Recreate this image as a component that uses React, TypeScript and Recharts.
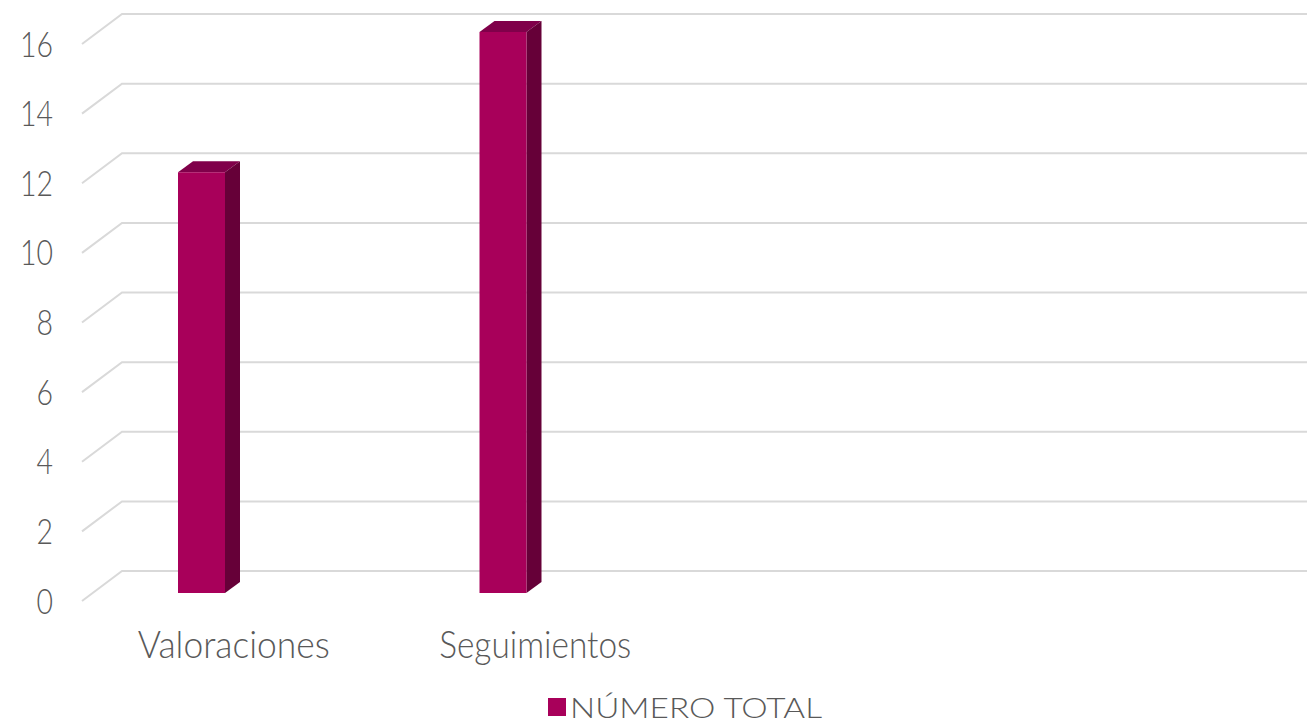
import React from 'react';
import { BarChart, Bar, XAxis, YAxis, CartesianGrid, Legend } from 'recharts';

const categories = ['Valoraciones', 'Seguimientos', '', ''];
const totals: (number | null)[] = [12, 16, null, null];
const yTicks = [0, 2, 4, 6, 8, 10, 12, 14, 16];
const seriesName = 'NÚMERO TOTAL';

const data = categories.map((name, i) => ({ name, total: totals[i] }));

const W = 1307;
const H = 723;
const MARGIN = { top: 32, right: 50, bottom: 90, left: 11 };
const X_AXIS_H = 40;
const Y_AXIS_W = 40;
const PLOT_BOTTOM = H - MARGIN.bottom - X_AXIS_H;

const FONT = 'Lato, "Open Sans", sans-serif';
const TEXT = '#595959';
const GRID = '#D9D9D9';
const FRONT = '#A8005A';
const TOP = '#80004A';
const SIDE = '#660038';
const DEPTH_X = 15;
const DEPTH_Y = 11;

// back-plane projection of a front-plane y coordinate
const backY = (y: number) => PLOT_BOTTOM - 22 - (PLOT_BOTTOM - y) * (557 / 561);

const GridLine = (props: any) => {
  const { y1, x1, x2 } = props;
  const by = backY(y1);
  const bxLeft = x1 + 71;
  return (
    <path
      key={props.key ?? `g-${y1}`}
      d={`M${bxLeft - 40},${by + 30}L${bxLeft},${by}L${x2 + 50},${by}`}
      stroke={GRID}
      strokeWidth={2}
      fill="none"
    />
  );
};

const YTick = (props: any) => {
  const { y, payload } = props;
  const s = String(payload.value);
  const cy = backY(y) + 30;
  return (
    <text
      x={53}
      y={cy + 12.5}
      fontSize={35}
      fontFamily={FONT}
      fontWeight={300}
      fill={TEXT}
      textAnchor="end"
      textLength={s.length * 16.5}
      lengthAdjust="spacingAndGlyphs"
    >
      {s}
    </text>
  );
};

const XTick = (props: any) => {
  const { x, payload } = props;
  const s = String(payload.value ?? '');
  if (!s) return null;
  return (
    <text
      x={x + 32}
      y={PLOT_BOTTOM + 65}
      fontSize={37}
      fontFamily={FONT}
      fontWeight={300}
      fill={TEXT}
      textAnchor="middle"
      textLength={s.length * 16}
      lengthAdjust="spacingAndGlyphs"
    >
      {s}
    </text>
  );
};

const Bar3D = (props: any) => {
  const { x, y, width, height } = props;
  if (height == null || !isFinite(height) || height <= 0) return null;
  const dx = DEPTH_X;
  const dy = DEPTH_Y;
  return (
    <g>
      <polygon
        points={`${x},${y} ${x + dx},${y - dy} ${x + width + dx},${y - dy} ${x + width},${y}`}
        fill={TOP}
      />
      <polygon
        points={`${x + width},${y} ${x + width + dx},${y - dy} ${x + width + dx},${y + height - dy} ${x + width},${y + height}`}
        fill={SIDE}
      />
      <rect x={x} y={y} width={width} height={height} fill={FRONT} />
    </g>
  );
};

const LegendContent = (props: any) => {
  const item = (props.payload && props.payload[0]) || { value: seriesName, color: FRONT };
  return (
    <div style={{ height: 0, position: 'relative' }}>
      <svg width={W} height={40} style={{ position: 'absolute', left: 0, top: 0, overflow: 'visible' }}>
        <rect x={548} y={8} width={18} height={18} fill={FRONT} />
        <text
          x={570}
          y={28}
          fontSize={28}
          fontFamily={FONT}
          fontWeight={300}
          fill={TEXT}
          textLength={252}
          lengthAdjust="spacingAndGlyphs"
        >
          {item.value}
        </text>
      </svg>
    </div>
  );
};

export default function App() {
  return (
    <div style={{ position: 'absolute', left: 0, top: 0, width: W, height: H, background: '#fff' }}>
      <BarChart width={W} height={H} data={data} margin={MARGIN}>
        <CartesianGrid vertical={false} horizontal={GridLine as any} />
        <XAxis
          dataKey="name"
          height={X_AXIS_H}
          axisLine={false}
          tickLine={false}
          tick={XTick}
          interval={0}
        />
        <YAxis
          width={Y_AXIS_W}
          domain={[0, 16]}
          ticks={yTicks}
          axisLine={false}
          tickLine={false}
          tick={YTick}
          interval={0}
        />
        <Legend
          verticalAlign="bottom"
          content={LegendContent}
          wrapperStyle={{ position: 'absolute', top: 690, left: 0, width: W, height: 0 }}
        />
        <Bar
          dataKey="total"
          name={seriesName}
          fill={FRONT}
          barSize={47}
          shape={Bar3D}
          isAnimationActive={false}
        />
      </BarChart>
    </div>
  );
}
